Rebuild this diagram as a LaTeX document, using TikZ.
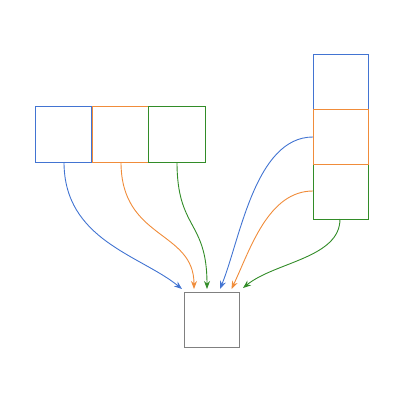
\documentclass[tikz,border=0pt]{standalone}
\usetikzlibrary{arrows.meta}
\definecolor{cblue}{RGB}{66,116,210}
\definecolor{corange}{RGB}{240,140,58}
\definecolor{cgreen}{RGB}{50,140,40}
\definecolor{cgray}{RGB}{128,128,128}
\begin{document}
\begin{tikzpicture}[x=1pt,y=-1pt,
  cell/.style={draw, line width=1pt, minimum width=56.5pt, minimum height=56pt, inner sep=0pt, fill=none},
  rcell/.style={draw, line width=1pt, minimum width=55pt, minimum height=55pt, inner sep=0pt},
  link/.style={line width=0.9pt, -{Stealth[length=8pt,width=6pt]}}]
\useasboundingbox (0,0) rectangle (400,400);
% left row
\node[cell, cblue]   (L1) at (63.5,134) {};
\node[cell, corange] (L2) at (120.5,134) {};
\node[cell, cgreen]  (L3) at (177,134) {};
% right column
\node[rcell, cgreen]  (R3) at (340.5,191.5) {};
\node[rcell, cblue]   (R1) at (340.5,81.5) {};
\node[rcell, corange] (R2) at (340.5,136.5) {};
% bottom
\node[rcell, cgray] (B) at (211.5,319.5) {};
% anchor points
\coordinate (bL1) at (64,162);
\coordinate (bL2) at (121,162);
\coordinate (bL3) at (177,162);
\coordinate (sR2) at (313,137);
\coordinate (sR3) at (313,191);
\coordinate (bR3) at (340,219);
\coordinate (t1) at (182,289);
\coordinate (t2) at (194,289);
\coordinate (t3) at (207,289);
\coordinate (t4) at (220,289);
\coordinate (t5) at (231.5,289);
\coordinate (t6) at (243,288);
\draw[link, cblue]   (bL1) .. controls (64,240) and (140,255) .. (t1);
\draw[link, corange] (bL2) .. controls (121,240) and (194,230) .. (t2);
\draw[link, cgreen]  (bL3) .. controls (177,230) and (207,220) .. (t3);
\draw[link, cblue]   (sR2) .. controls (255,137) and (240,240) .. (t4);
\draw[link, corange] (sR3) .. controls (268,191) and (250,250) .. (t5);
\draw[link, cgreen]  (bR3) .. controls (340,258) and (275,262) .. (t6);
\end{tikzpicture}
\end{document}
